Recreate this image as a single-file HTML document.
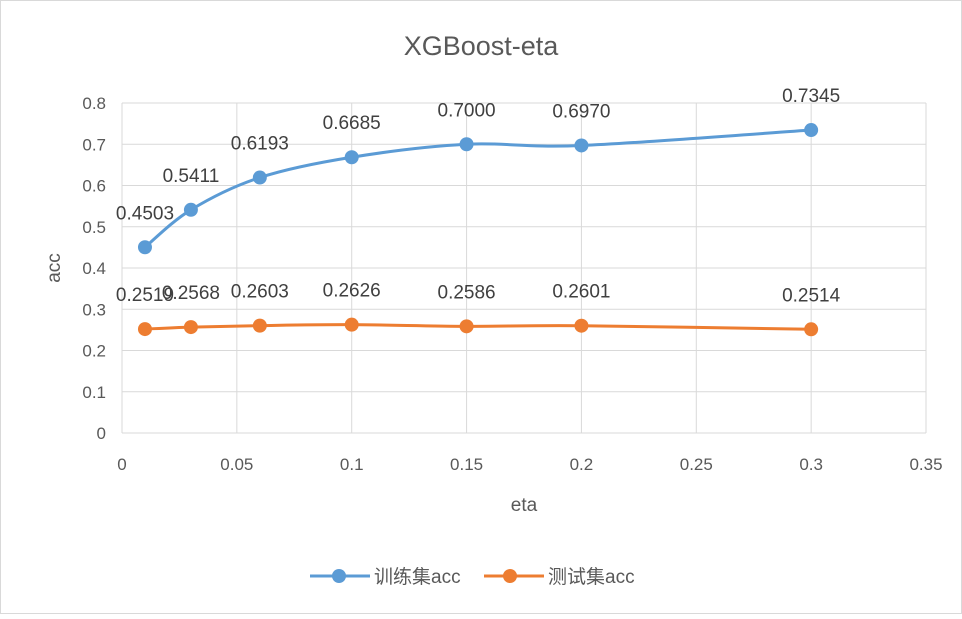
<!DOCTYPE html>
<html><head><meta charset="utf-8"><style>
html,body{margin:0;padding:0;background:#fff;}
svg text{font-family:"Liberation Sans","Noto Sans CJK SC",sans-serif;}
</style></head><body>
<svg id="chart" width="962" height="614" viewBox="0 0 962 614" xmlns="http://www.w3.org/2000/svg">
<rect x="0.5" y="0.5" width="961" height="613" fill="#fff" stroke="#d9d9d9"/>
<text x="481" y="55" font-size="27" fill="#595959" text-anchor="middle">XGBoost-eta</text>
<g id="grid"></g>
<g id="axes"></g>
<g id="series"></g>
<text x="524" y="511" font-size="19" fill="#595959" text-anchor="middle">eta</text>
<text x="0" y="0" font-size="19" fill="#595959" text-anchor="middle" transform="translate(60,268) rotate(-90)">acc</text>
<g>
<g>
<line x1="310" y1="576" x2="370" y2="576" stroke="#5b9bd5" stroke-width="3"/>
<circle cx="339" cy="576" r="7" fill="#5b9bd5"/>
<text x="374" y="583" font-size="19" fill="#595959">训练集acc</text>
</g>
<g>
<line x1="484" y1="576" x2="544" y2="576" stroke="#ed7d31" stroke-width="3"/>
<circle cx="510" cy="576" r="7" fill="#ed7d31"/>
<text x="548" y="583" font-size="19" fill="#595959">测试集acc</text>
</g>
</g>
</svg>
<script>
const etaValues = [0.01, 0.03, 0.06, 0.1, 0.15, 0.2, 0.3];
const trainAcc = [0.4503, 0.5411, 0.6193, 0.6685, 0.7000, 0.6970, 0.7345];
const testAcc = [0.2519, 0.2568, 0.2603, 0.2626, 0.2586, 0.2601, 0.2514];
const xTicks = [0, 0.05, 0.1, 0.15, 0.2, 0.25, 0.3, 0.35];
const yTicks = [0, 0.1, 0.2, 0.3, 0.4, 0.5, 0.6, 0.7, 0.8];

const NS = "http://www.w3.org/2000/svg";
const X0 = 122, X1 = 926, Y0 = 433, Y1 = 103;
function xs(v){ return X0 + (v - 0) / (0.35 - 0) * (X1 - X0); }
function ys(v){ return Y0 - v / 0.8 * (Y0 - Y1); }
function mk(tag, attrs, parent){ const e = document.createElementNS(NS, tag); for (const k in attrs) e.setAttribute(k, attrs[k]); parent.appendChild(e); return e; }
const grid = document.getElementById('grid');
const axes = document.getElementById('axes');
const series = document.getElementById('series');

yTicks.forEach(t => {
  const l = mk('line', {x1: X0, x2: X1, y1: ys(t), y2: ys(t), stroke: '#d9d9d9', 'stroke-width': 1}, grid);
  
  
  const tx = mk('text', {x: 106, y: ys(t) + 6, 'font-size': 17, fill: '#595959', 'text-anchor': 'end'}, axes);
  tx.textContent = String(t);
  
  
});
xTicks.forEach(t => {
  const l = mk('line', {x1: xs(t), x2: xs(t), y1: Y1, y2: Y0, stroke: '#d9d9d9', 'stroke-width': 1}, grid);
  
  
  const tx = mk('text', {x: xs(t), y: 470, 'font-size': 17, fill: '#595959', 'text-anchor': 'middle'}, axes);
  tx.textContent = String(t);
  
  
});

function smoothPath(pts){
  let d = 'M' + pts[0][0] + ',' + pts[0][1];
  for (let i = 0; i < pts.length - 1; i++){
    const p0 = pts[i-1] || pts[i], p1 = pts[i], p2 = pts[i+1], p3 = pts[i+2] || p2;
    const c1 = [p1[0] + (p2[0]-p0[0])/6, p1[1] + (p2[1]-p0[1])/6];
    const c2 = [p2[0] - (p3[0]-p1[0])/6, p2[1] - (p3[1]-p1[1])/6];
    d += ' C' + c1[0] + ',' + c1[1] + ' ' + c2[0] + ',' + c2[1] + ' ' + p2[0] + ',' + p2[1];
  }
  return d;
}
function drawSeries(vals, color, name){
  const g = mk('g', {}, series);
  
  
  const pts = etaValues.map((e, i) => [xs(e), ys(vals[i])]);
  const p = mk('path', {d: smoothPath(pts), fill: 'none', stroke: color, 'stroke-width': 3}, g);
  
  
  pts.forEach((pt, i) => {
    const c = mk('circle', {cx: pt[0], cy: pt[1], r: 7, fill: color}, g);
    
    
    const t = mk('text', {x: pt[0], y: pt[1] - 28, 'font-size': 19, fill: '#404040', 'text-anchor': 'middle'}, g);
    t.textContent = vals[i].toFixed(4);
    
    
  });
}
drawSeries(trainAcc, '#5b9bd5', 'train-acc');
drawSeries(testAcc, '#ed7d31', 'test-acc');
</script>
</body></html>
